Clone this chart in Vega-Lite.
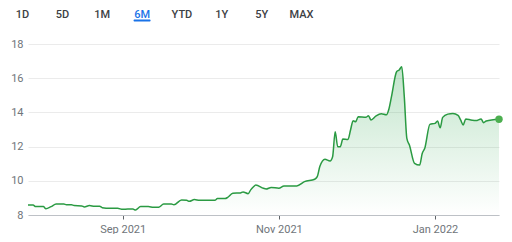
{
  "$schema": "https://vega.github.io/schema/vega-lite/v6.json",
  "padding": {"left": 10, "top": 0, "right": 14, "bottom": 0},
  "background": "white",
  "config": {"view": {"stroke": null}, "font": "Roboto", "concat": {"spacing": 16}},
  "bounds": "flush",
  "datasets": {
    "buttons": [
      {"label": "1D"}, {"label": "5D"}, {"label": "1M"}, {"label": "6M"},
      {"label": "YTD"}, {"label": "1Y"}, {"label": "5Y"}, {"label": "MAX"}
    ],
    "price": [
      {"date": "2021-07-26", "close": 8.58},
      {"date": "2021-07-28", "close": 8.58},
      {"date": "2021-07-29", "close": 8.49},
      {"date": "2021-08-01", "close": 8.49},
      {"date": "2021-08-02", "close": 8.37},
      {"date": "2021-08-04", "close": 8.49},
      {"date": "2021-08-06", "close": 8.64},
      {"date": "2021-08-09", "close": 8.64},
      {"date": "2021-08-10", "close": 8.6},
      {"date": "2021-08-12", "close": 8.6},
      {"date": "2021-08-13", "close": 8.55},
      {"date": "2021-08-16", "close": 8.53},
      {"date": "2021-08-17", "close": 8.47},
      {"date": "2021-08-19", "close": 8.55},
      {"date": "2021-08-21", "close": 8.51},
      {"date": "2021-08-23", "close": 8.51},
      {"date": "2021-08-24", "close": 8.43},
      {"date": "2021-08-27", "close": 8.39},
      {"date": "2021-08-30", "close": 8.39},
      {"date": "2021-09-01", "close": 8.33},
      {"date": "2021-09-03", "close": 8.35},
      {"date": "2021-09-05", "close": 8.35},
      {"date": "2021-09-06", "close": 8.29},
      {"date": "2021-09-08", "close": 8.49},
      {"date": "2021-09-11", "close": 8.49},
      {"date": "2021-09-13", "close": 8.45},
      {"date": "2021-09-15", "close": 8.45},
      {"date": "2021-09-17", "close": 8.64},
      {"date": "2021-09-20", "close": 8.64},
      {"date": "2021-09-21", "close": 8.6},
      {"date": "2021-09-24", "close": 8.88},
      {"date": "2021-09-26", "close": 8.86},
      {"date": "2021-09-27", "close": 8.8},
      {"date": "2021-09-29", "close": 8.9},
      {"date": "2021-10-01", "close": 8.86},
      {"date": "2021-10-07", "close": 8.86},
      {"date": "2021-10-08", "close": 8.96},
      {"date": "2021-10-11", "close": 8.96},
      {"date": "2021-10-12", "close": 9.03},
      {"date": "2021-10-14", "close": 9.27},
      {"date": "2021-10-17", "close": 9.29},
      {"date": "2021-10-18", "close": 9.35},
      {"date": "2021-10-20", "close": 9.25},
      {"date": "2021-10-21", "close": 9.47},
      {"date": "2021-10-22", "close": 9.64},
      {"date": "2021-10-23", "close": 9.75},
      {"date": "2021-10-26", "close": 9.56},
      {"date": "2021-10-27", "close": 9.52},
      {"date": "2021-10-29", "close": 9.61},
      {"date": "2021-11-01", "close": 9.57},
      {"date": "2021-11-03", "close": 9.7},
      {"date": "2021-11-08", "close": 9.7},
      {"date": "2021-11-11", "close": 9.95},
      {"date": "2021-11-15", "close": 10.09},
      {"date": "2021-11-16", "close": 10.24},
      {"date": "2021-11-17", "close": 10.83},
      {"date": "2021-11-19", "close": 11.26},
      {"date": "2021-11-21", "close": 11.16},
      {"date": "2021-11-22", "close": 11.41},
      {"date": "2021-11-23", "close": 12.87},
      {"date": "2021-11-24", "close": 11.99},
      {"date": "2021-11-25", "close": 11.99},
      {"date": "2021-11-26", "close": 12.44},
      {"date": "2021-11-28", "close": 12.42},
      {"date": "2021-11-29", "close": 12.97},
      {"date": "2021-11-30", "close": 13.51},
      {"date": "2021-12-01", "close": 13.46},
      {"date": "2021-12-02", "close": 13.75},
      {"date": "2021-12-05", "close": 13.72},
      {"date": "2021-12-06", "close": 13.8},
      {"date": "2021-12-07", "close": 13.56},
      {"date": "2021-12-09", "close": 13.8},
      {"date": "2021-12-11", "close": 13.92},
      {"date": "2021-12-13", "close": 13.86},
      {"date": "2021-12-14", "close": 14.2},
      {"date": "2021-12-15", "close": 14.92},
      {"date": "2021-12-17", "close": 16.38},
      {"date": "2021-12-18", "close": 16.48},
      {"date": "2021-12-19", "close": 16.67},
      {"date": "2021-12-20", "close": 14.92},
      {"date": "2021-12-21", "close": 12.48},
      {"date": "2021-12-22", "close": 12.09},
      {"date": "2021-12-24", "close": 11.02},
      {"date": "2021-12-26", "close": 10.92},
      {"date": "2021-12-27", "close": 11.6},
      {"date": "2021-12-28", "close": 11.9},
      {"date": "2021-12-30", "close": 13.3},
      {"date": "2022-01-01", "close": 13.36},
      {"date": "2022-01-02", "close": 13.5},
      {"date": "2022-01-03", "close": 13.1},
      {"date": "2022-01-04", "close": 13.71},
      {"date": "2022-01-06", "close": 13.9},
      {"date": "2022-01-08", "close": 13.94},
      {"date": "2022-01-10", "close": 13.83},
      {"date": "2022-01-11", "close": 13.56},
      {"date": "2022-01-12", "close": 13.26},
      {"date": "2022-01-13", "close": 13.61},
      {"date": "2022-01-15", "close": 13.56},
      {"date": "2022-01-17", "close": 13.52},
      {"date": "2022-01-19", "close": 13.61},
      {"date": "2022-01-20", "close": 13.4},
      {"date": "2022-01-21", "close": 13.5},
      {"date": "2022-01-26", "close": 13.6}
    ]
  },
  "vconcat": [
    {
      "width": 471,
      "height": 28,
      "data": {"name": "buttons"},
      "encoding": {
        "x": {
          "field": "label",
          "type": "nominal",
          "sort": null,
          "scale": {"type": "point", "range": [-5.5, 273.5], "padding": 0},
          "axis": null
        }
      },
      "layer": [
        {
          "mark": {"type": "text", "fontSize": 11, "baseline": "middle", "fontWeight": 500, "dy": 0.5},
          "encoding": {
            "text": {"field": "label"},
            "color": {
              "condition": {"test": "datum.label == '6M'", "value": "#1a73e8"},
              "value": "#3c4043"
            }
          }
        },
        {
          "transform": [{"filter": "datum.label == '6M'"}],
          "mark": {"type": "tick", "orient": "horizontal", "size": 17, "thickness": 2, "color": "#1a73e8", "yOffset": 6.5, "opacity": 1, "cornerRadius": 1}
        }
      ]
    },
    {
      "width": 471,
      "height": 171,
      "data": {"name": "price"},
      "encoding": {
        "x": {
          "field": "date",
          "type": "temporal",
          "scale": {"nice": false, "domain": ["2021-07-26", "2022-01-26"]},
          "axis": {
            "values": ["2021-09-01", "2021-11-01", "2022-01-01"],
            "format": "%b %Y",
            "title": null,
            "grid": false,
            "domainColor": "#bdc1c6",
            "tickColor": "#5f6368",
            "tickSize": 4,
            "labelColor": "#70757a",
            "labelFontSize": 11,
            "labelPadding": 4
          }
        },
        "y": {
          "field": "close",
          "type": "quantitative",
          "scale": {"domain": [8, 18], "nice": false, "zero": false},
          "axis": {
            "values": [8, 10, 12, 14, 16, 18],
            "title": null,
            "domain": false,
            "ticks": false,
            "gridColor": "#ebebeb",
            "labelColor": "#70757a",
            "labelFontSize": 11,
            "labelPadding": 5
          }
        }
      },
      "layer": [
        {
          "mark": {
            "type": "area",
            "interpolate": "monotone",
            "fill": {
              "x1": 1, "y1": 1, "x2": 1, "y2": 0,
              "gradient": "linear",
              "stops": [
                {"offset": 0, "color": "rgba(52,168,83,0.0)"},
                {"offset": 1, "color": "rgba(52,168,83,0.3)"}
              ]
            }
          },
          "encoding": {"y2": {"datum": 8}}
        },
        {
          "mark": {"type": "line", "interpolate": "monotone", "color": "#2a9a42", "strokeWidth": 1.5}
        },
        {
          "transform": [{"filter": "utcyear(datum.date) == 2022 && utcmonth(datum.date) == 0 && utcdate(datum.date) == 26"}],
          "mark": {"type": "point", "filled": true, "size": 55, "color": "#4caf50", "opacity": 1}
        }
      ]
    }
  ]
}
